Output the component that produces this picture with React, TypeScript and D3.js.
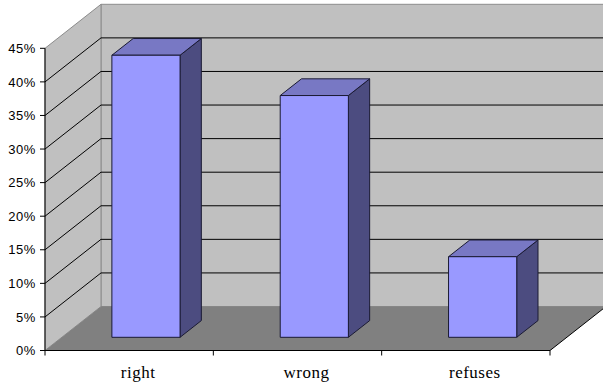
import React from "react";
import * as d3 from "d3";

// Share of answers per category
const categories: string[] = ["right", "wrong", "refuses"];
const shares: number[] = [0.42, 0.36, 0.12];
const yTicks: number[] = [0, 0.05, 0.1, 0.15, 0.2, 0.25, 0.3, 0.35, 0.4, 0.45];

const W = 603;
const H = 382;

// Oblique 3D projection: the floor runs back by (DX, -DY)
const DX = 56;
const DY = 44;
const BAR_FRONT = 0.3; // bar front depth as a fraction of floor depth
const BAR_DEPTH = 0.38; // bar depth as a fraction of floor depth

const x = d3.scaleBand<string>().domain(categories).range([45, 550]).padding(0);
const y = d3.scaleLinear().domain([0, 0.45]).range([350.5, 48.3]);

const WALL = "#c0c0c0";
const FLOOR = "#808080";
const EDGE = "#8c8c8c";
const FRONT = "#9999ff";
const TOP = "#7878c4";
const SIDE = "#4c4c80";
const OUTLINE = "#1a1a33";

const pts = (p: [number, number][]) => p.map((d) => d.join(",")).join(" ");

export default function App() {
  const x0 = x.range()[0];
  const x1 = x.range()[1];
  const yBase = y(0);
  const yTop = y(0.45);
  const step = x.bandwidth();
  const barW = step * 0.405;
  const fx = DX * BAR_FRONT;
  const fy = DY * BAR_FRONT;
  const bdx = DX * BAR_DEPTH;
  const bdy = DY * BAR_DEPTH;
  const pct = d3.format(".0%");

  return (
    <svg
      width={W}
      height={H}
      style={{ position: "absolute", left: 0, top: 0, background: "#fff" }}
    >
      {/* back wall */}
      <polygon
        points={pts([
          [x0 + DX, yTop - DY],
          [x1 + DX, yTop - DY],
          [x1 + DX, yBase - DY],
          [x0 + DX, yBase - DY],
        ])}
        fill={WALL}
        stroke={EDGE}
      />
      {/* left wall */}
      <polygon
        points={pts([
          [x0, yTop],
          [x0 + DX, yTop - DY],
          [x0 + DX, yBase - DY],
          [x0, yBase],
        ])}
        fill={WALL}
        stroke={EDGE}
      />
      {/* floor */}
      <polygon
        points={pts([
          [x0, yBase],
          [x0 + DX, yBase - DY],
          [x1 + DX, yBase - DY],
          [x1, yBase],
        ])}
        fill={FLOOR}
      />
      <line x1={x1} y1={yBase} x2={x1 + DX} y2={yBase - DY} stroke="#000" />

      {/* gridlines on both walls */}
      {yTicks
        .filter((t) => t > 0 && t < 0.45)
        .map((t) => (
          <g key={t}>
            <line x1={x0} y1={y(t)} x2={x0 + DX} y2={y(t) - DY} stroke="#000" />
            <line
              x1={x0 + DX}
              y1={y(t) - DY}
              x2={x1 + DX}
              y2={y(t) - DY}
              stroke="#000"
            />
          </g>
        ))}

      {/* bars */}
      {categories.map((c, i) => {
        const left = (x(c) as number) + (step - barW) / 2 + fx;
        const right = left + barW;
        const bottom = yBase - fy;
        const top = bottom - (yBase - y(shares[i]));
        return (
          <g key={c} stroke={OUTLINE} strokeWidth={1} strokeLinejoin="round">
            <polygon
              points={pts([
                [right, top],
                [right + bdx, top - bdy],
                [right + bdx, bottom - bdy],
                [right, bottom],
              ])}
              fill={SIDE}
            />
            <polygon
              points={pts([
                [left, top],
                [left + bdx, top - bdy],
                [right + bdx, top - bdy],
                [right, top],
              ])}
              fill={TOP}
            />
            <rect x={left} y={top} width={barW} height={bottom - top} fill={FRONT} />
          </g>
        );
      })}

      {/* value axis */}
      <line x1={x0} y1={yTop} x2={x0} y2={yBase} stroke="#000" />
      {yTicks.map((t) => (
        <g key={t}>
          <line x1={x0 - 5} y1={y(t)} x2={x0} y2={y(t)} stroke="#000" />
          <text
            x={x0 - 9}
            y={y(t)}
            dy="0.36em"
            textAnchor="end"
            fontFamily="Liberation Sans, Arial, sans-serif"
            fontSize={13}
            letterSpacing={0.6}
            fill="#000"
          >
            {pct(t)}
          </text>
        </g>
      ))}

      {/* category axis */}
      <line x1={x0} y1={yBase} x2={x1} y2={yBase} stroke="#000" />
      {[...categories.map((c) => x(c) as number), x1].map((v, i) => (
        <line key={i} x1={v} y1={yBase} x2={v} y2={yBase + 5} stroke="#000" />
      ))}
      {categories.map((c) => (
        <text
          key={c}
          x={(x(c) as number) + step / 2 + 9}
          y={378}
          textAnchor="middle"
          fontFamily="Liberation Serif, Times New Roman, serif"
          fontSize={17}
          letterSpacing={0.5}
          fill="#000"
        >
          {c}
        </text>
      ))}
    </svg>
  );
}
